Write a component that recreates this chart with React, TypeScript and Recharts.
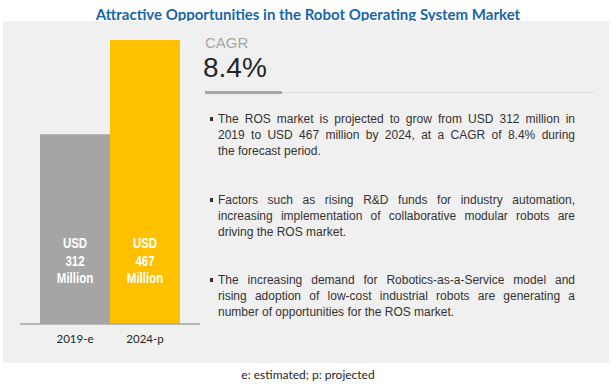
import React from 'react';
import { BarChart, Bar, XAxis, YAxis, Cell, LabelList } from 'recharts';

const years = ['2019-e', '2024-p'];
const marketSize = [312, 467];
const barColors = ['#A5A5A5', '#FFC000'];
const cagrValue = '8.4%';

// each bullet is kept as its printed lines so the wrapping matches
const bullets = [
  [
    'The ROS market is projected to grow from USD 312 million in',
    '2019 to USD 467 million by 2024, at a CAGR of 8.4% during',
    'the forecast period.',
  ],
  [
    'Factors such as rising R&D funds for industry automation,',
    'increasing implementation of collaborative modular robots are',
    'driving the ROS market.',
  ],
  [
    'The increasing demand for Robotics-as-a-Service model and',
    'rising adoption of low-cost industrial robots are generating a',
    'number of opportunities for the ROS market.',
  ],
];
const bulletTops = [111, 192, 272];

const data = years.map((year, i) => ({ year, value: marketSize[i] }));

const body = '"Liberation Sans", Arial, sans-serif';
const calibri = 'Lato, "Open Sans", sans-serif';

// no narrow font installed, so squeeze the bold label horizontally
function ValueLabel(props: any) {
  const { x, y, width, height, value } = props;
  const cx = x + width / 2;
  const base = y + height;
  return (
    <g transform={`translate(${cx},0) scale(0.82,1)`}>
      <text
        x={0}
        y={base - 81}
        textAnchor="middle"
        fill="#FFFFFF"
        fontFamily={body}
        fontWeight="bold"
        fontSize={14}
      >
        <tspan x={0} dy="0.35em">USD</tspan>
        <tspan x={0} dy={18}>{value}</tspan>
        <tspan x={0} dy={17}>Million</tspan>
      </text>
    </g>
  );
}

export default function App() {
  return (
    <div style={{ position: 'absolute', left: 0, top: 0, width: 616, height: 386, background: '#FFFFFF', overflow: 'hidden' }}>
      <div
        style={{
          position: 'absolute', top: 4, left: 0, width: 616, textAlign: 'center',
          fontFamily: calibri, fontWeight: 700, fontSize: 15, lineHeight: '20px', color: '#1A65A8',
        }}
      >
        Attractive Opportunities in the Robot Operating System Market
      </div>

      <div style={{ position: 'absolute', left: 3, top: 21, width: 606, height: 342, background: '#F0F0F0' }} />

      <div style={{ position: 'absolute', left: 0, top: 0 }}>
        <BarChart
          width={220}
          height={360}
          data={data}
          margin={{ top: 40, right: 20, left: 20, bottom: 6 }}
          barCategoryGap={0}
        >
          <XAxis
            dataKey="year"
            height={30}
            padding={{ left: 20, right: 20 }}
            tickLine={false}
            tickMargin={5}
            axisLine={{ stroke: '#A6A6A6', strokeWidth: 1.5 }}
            tick={{ fill: '#262626', fontSize: 11.5, fontFamily: calibri }}
          />
          <YAxis hide domain={[0, 467]} />
          <Bar dataKey="value" isAnimationActive={false}>
            {data.map((d, i) => (
              <Cell key={d.year} fill={barColors[i]} />
            ))}
            <LabelList dataKey="value" content={ValueLabel} />
          </Bar>
        </BarChart>
      </div>

      <div style={{ position: 'absolute', left: 205, top: 34, fontFamily: body, fontSize: 15, lineHeight: '18px', color: '#A6A6A6' }}>
        CAGR
      </div>
      <div style={{ position: 'absolute', left: 203, top: 52, fontFamily: body, fontSize: 28, lineHeight: '32px', color: '#262626' }}>
        {cagrValue}
      </div>
      <div style={{ position: 'absolute', left: 205, top: 92, width: 389, height: 1, background: '#D9D9D9' }} />
      <div style={{ position: 'absolute', left: 205, top: 90.5, width: 77, height: 3.5, background: '#A6A6A6' }} />

      {bullets.map((lines, b) => (
        <div key={b} style={{ position: 'absolute', left: 218, top: bulletTops[b], width: 357, fontFamily: body, fontSize: 12, lineHeight: '16px', color: '#333333' }}>
          <div style={{ position: 'absolute', left: -8, top: 6, width: 3, height: 4, background: '#333333' }} />
          {lines.map((line, i) => (
            <div
              key={i}
              style={{
                textAlign: i < lines.length - 1 ? 'justify' : 'left',
                textAlignLast: i < lines.length - 1 ? 'justify' : 'left',
                whiteSpace: 'nowrap',
              }}
            >
              {line}
            </div>
          ))}
        </div>
      ))}

      <div style={{ position: 'absolute', top: 367, left: 0, width: 616, textAlign: 'center', fontFamily: calibri, fontSize: 12, lineHeight: '16px', color: '#262626' }}>
        e: estimated; p: projected
      </div>
    </div>
  );
}
